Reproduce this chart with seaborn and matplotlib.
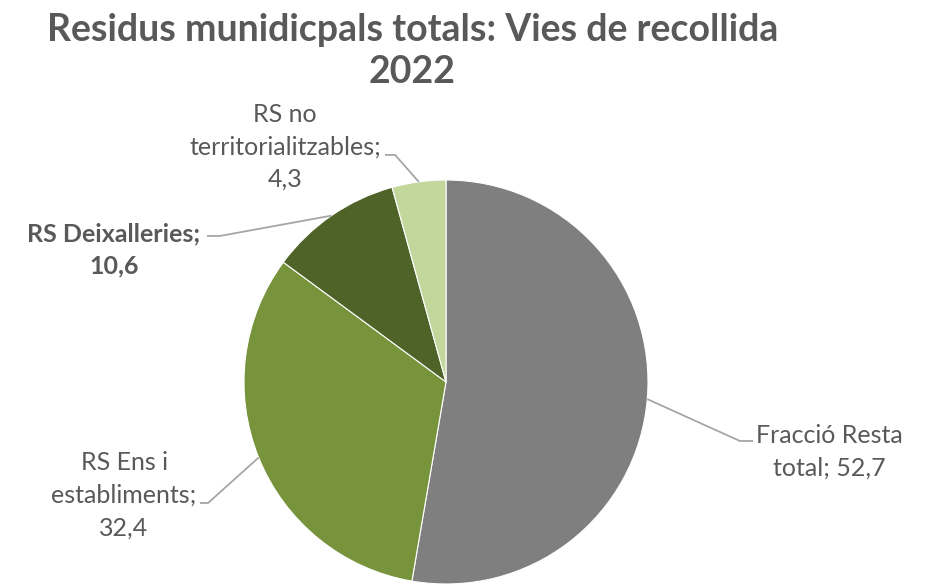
import numpy as np
import matplotlib
matplotlib.use("Agg")
import matplotlib.pyplot as plt
import seaborn as sns

# Dades: residus municipals totals per via de recollida (2022)
categories = ["Fracció Resta total", "RS Ens i establiments", "RS Deixalleries", "RS no territorialitzables"]
label_lines = ["Fracció Resta\ntotal; {}", "RS Ens i\nestabliments;\n{}", "RS Deixalleries;\n{}", "RS no\nterritorialitzables;\n{}"]
values = [52.7, 32.4, 10.6, 4.3]
colors = ["#7F7F7F", "#77933C", "#4F6228", "#C3D69B"]

sns.set_theme(style="white")
plt.rcParams["font.family"] = ["Lato", "DejaVu Sans"]
TEXT = "#595959"
LINE = "#A6A6A6"

fig = plt.figure(figsize=(9.25, 5.87), dpi=100)
# pie centre (446, 382) px, radius 202 px
ax = fig.add_axes([244 / 925, 3 / 587, 404 / 925, 404 / 587])

wedges, _ = ax.pie(values, colors=colors, startangle=90, counterclock=False,
                   radius=1, wedgeprops=dict(edgecolor="white", linewidth=0.8))
ax.set_xlim(-1, 1)
ax.set_ylim(-1, 1)
ax.axis("off")

# posicions de les etiquetes i colzes de les línies guia
label_pos = [(1.90, -0.345), (-1.594, -0.56), (-1.644, 0.655), (-0.797, 1.165)]
elbows = [(1.455, -0.292), (-1.178, -0.599), (-1.119, 0.723), (-0.252, 1.124)]
ends = [(1.520, -0.292), (-1.218, -0.599), (-1.183, 0.723), (-0.302, 1.124)]
bold = [False, False, True, False]

for w, val, lab, pos, elb, end, b in zip(wedges, values, label_lines, label_pos, elbows, ends, bold):
    ang = np.deg2rad((w.theta1 + w.theta2) / 2)
    x0, y0 = np.cos(ang), np.sin(ang)
    ax.plot([x0, elb[0], end[0]], [y0, elb[1], end[1]], color=LINE, lw=1.3,
            clip_on=False, solid_capstyle="butt")
    ax.text(pos[0], pos[1], lab.format(str(val).replace(".", ",")), ha="center", va="center",
            fontsize=18, color=TEXT, fontweight="bold" if b else "normal",
            linespacing=1.5, clip_on=False)

fig.text(0.446, 0.913, "Residus munidicpals totals: Vies de recollida\n2022", ha="center", va="center",
         fontsize=27, fontweight="bold", color=TEXT, linespacing=1.26)

fig.savefig("out.png", dpi=100)
